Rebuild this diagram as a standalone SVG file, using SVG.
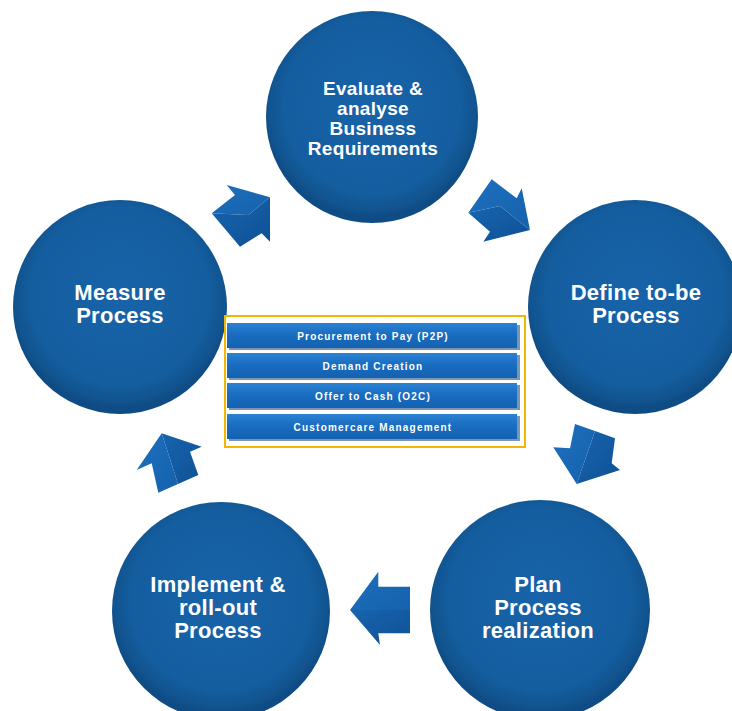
<svg xmlns="http://www.w3.org/2000/svg" width="732" height="711" viewBox="0 0 732 711">
<defs>
<radialGradient id="gCircle" cx="50%" cy="45%" r="52%">
<stop offset="0%" stop-color="#1863a9"/>
<stop offset="80%" stop-color="#145d9f"/>
<stop offset="94%" stop-color="#11548f"/>
<stop offset="100%" stop-color="#0f4c85"/>
</radialGradient>
<linearGradient id="gBar" x1="0" y1="0" x2="0" y2="1">
<stop offset="0%" stop-color="#2b82d2"/>
<stop offset="45%" stop-color="#1a6dc2"/>
<stop offset="100%" stop-color="#1461b0"/>
</linearGradient>
<linearGradient id="gArrowA" x1="0" y1="0" x2="1" y2="1">
<stop offset="0%" stop-color="#1d6fbd"/>
<stop offset="100%" stop-color="#1562ad"/>
</linearGradient>
<linearGradient id="gArrowB" x1="0" y1="0" x2="1" y2="1">
<stop offset="0%" stop-color="#1764b0"/>
<stop offset="100%" stop-color="#0f5194"/>
</linearGradient>
</defs>
<style>
.circle{fill:url(#gCircle);}
.lbl{font-family:"Liberation Sans",Arial,sans-serif;font-weight:bold;fill:#ffffff;text-anchor:middle;font-size:22px;letter-spacing:0.3px;}
.lbl-s{font-size:19px;letter-spacing:0.3px;}
.bar{fill:url(#gBar);}
.barsh{fill:#0d3f73;opacity:0.55;}
.btxt{font-family:"Liberation Sans",Arial,sans-serif;font-weight:bold;fill:#ffffff;text-anchor:middle;font-size:10px;letter-spacing:1.2px;}
.fa{fill:url(#gArrowA);}
.fb{fill:url(#gArrowB);}
</style>
<rect width="732" height="711" fill="#ffffff"/>

<g id="node-evaluate">
<circle class="circle" cx="372" cy="117" r="106"/>
<text class="lbl lbl-s" x="373" y="95">Evaluate &amp;</text>
<text class="lbl lbl-s" x="373" y="115">analyse</text>
<text class="lbl lbl-s" x="373" y="135">Business</text>
<text class="lbl lbl-s" x="373" y="155">Requirements</text>
</g>

<g id="node-define">
<circle class="circle" cx="635" cy="307" r="107"/>
<text class="lbl" x="636" y="300">Define to-be</text>
<text class="lbl" x="636" y="323">Process</text>
</g>

<g id="node-plan">
<circle class="circle" cx="540" cy="610" r="110"/>
<text class="lbl" x="538" y="592">Plan</text>
<text class="lbl" x="538" y="615">Process</text>
<text class="lbl" x="538" y="638">realization</text>
</g>

<g id="node-implement">
<circle class="circle" cx="221" cy="611" r="109"/>
<text class="lbl" x="218" y="592">Implement &amp;</text>
<text class="lbl" x="218" y="615">roll-out</text>
<text class="lbl" x="218" y="638">Process</text>
</g>

<g id="node-measure">
<circle class="circle" cx="120" cy="307" r="107"/>
<text class="lbl" x="120" y="300">Measure</text>
<text class="lbl" x="120" y="323">Process</text>
</g>

<g id="node-processes">
<rect x="225" y="316" width="300" height="131" fill="#ffffff" stroke="#f2b705" stroke-width="2"/>
<rect class="barsh" x="229" y="325" width="291" height="25"/>
<rect class="bar" x="227" y="323" width="290" height="25"/>
<text class="btxt" x="373" y="339.5">Procurement to Pay (P2P)</text>
<rect class="barsh" x="229" y="355" width="291" height="25"/>
<rect class="bar" x="227" y="353" width="290" height="25"/>
<text class="btxt" x="373" y="369.5">Demand Creation</text>
<rect class="barsh" x="229" y="385" width="291" height="25"/>
<rect class="bar" x="227" y="383" width="290" height="25"/>
<text class="btxt" x="373" y="399.5">Offer to Cash (O2C)</text>
<rect class="barsh" x="229" y="416" width="291" height="25"/>
<rect class="bar" x="227" y="414" width="290" height="25"/>
<text class="btxt" x="373" y="430.5">Customercare Management</text>
</g>

<g id="connectors">
<g id="arrow-1">
<polygon class="fa" points="211.7,213.3 235,195 226.7,185 270,197.3 248.3,215"/>
<polygon class="fb" points="211.7,213.3 248.3,215 270,197.3 270,241.7 261.7,233.3 240,246.7"/>
</g>
<g id="arrow-2">
<polygon class="fa" points="468.3,212.7 491.7,179.3 516.7,198.3 521.7,188.3 530,230 500,206"/>
<polygon class="fb" points="468.3,212.7 500,206 530,230 483.3,241.7 490,231.7"/>
</g>
<g id="arrow-3">
<polygon class="fa" points="575,424 595,431 576.7,484 553.3,447.3 570,448.3"/>
<polygon class="fb" points="595,431 615,438.3 611.7,463.3 620,470 576.7,484"/>
</g>
<g id="arrow-4">
<polygon class="fa" points="350,610 378.3,571.7 378.3,586.7 410,586.7 410,610"/>
<polygon class="fb" points="350,610 410,610 410,633.3 378.3,633.3 380,645"/>
</g>
<g id="arrow-5">
<polygon class="fa" points="161.7,433.3 178,484 158.3,492.7 151.7,463.3 136.7,470"/>
<polygon class="fb" points="161.7,433.3 201.7,446.7 190,451.7 198.3,475 178,484"/>
</g>
</g>
</svg>
